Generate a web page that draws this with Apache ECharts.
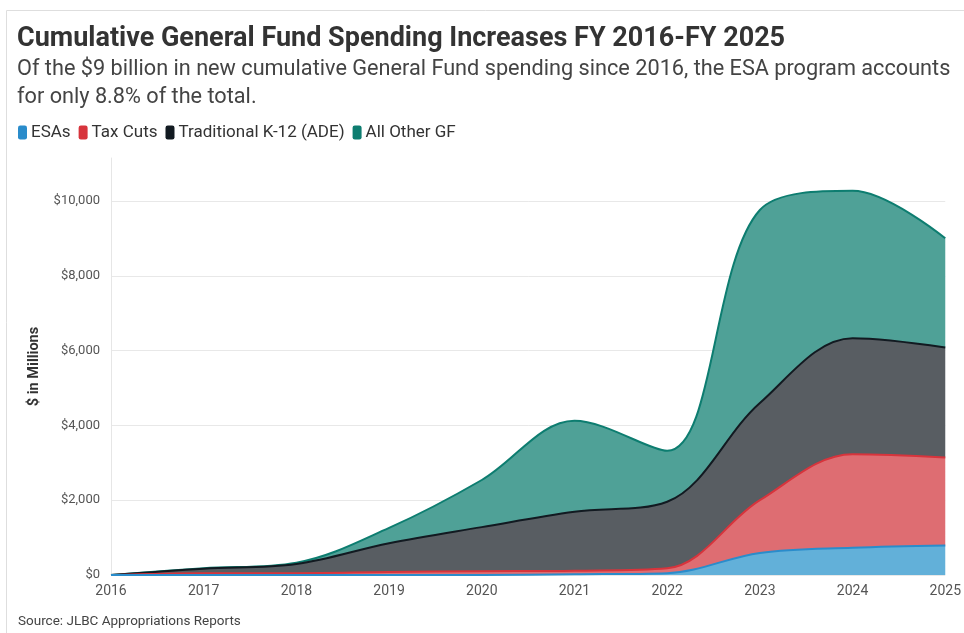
<!DOCTYPE html>
<html>
<head>
<meta charset="utf-8">
<script src="https://cdn.jsdelivr.net/npm/echarts@6/dist/echarts.min.js"></script>
<style>
  html, body { margin: 0; padding: 0; background: #fff; }
  #chart { width: 964px; height: 633px; }
</style>
</head>
<body>
<div id="chart"></div>
<script>
// fiscal years on the x axis
const years = ['2016', '2017', '2018', '2019', '2020', '2021', '2022', '2023', '2024', '2025'];

// cumulative new spending, $ in millions
const esas = [0, 0, 0, 0, 0, 20, 50, 590, 730, 792];
const taxCuts = [0, 50, 50, 80, 100, 95, 130, 1410, 2500, 2350];
const k12 = [0, 120, 245, 770, 1180, 1575, 1780, 2600, 3100, 2940];
const allOther = [0, 10, 35, 410, 1260, 2435, 1360, 5160, 3945, 2920];

const yTicks = [0, 2000, 4000, 6000, 8000, 10000];

const chart = echarts.init(document.getElementById('chart'));

// helper for one stacked area series
function areaSeries(name, data, lineColor, fillColor, z) {
  return {
    name: name,
    type: 'line',
    stack: 'total',
    data: data,
    smooth: 0.35,
    showSymbol: false,
    z: z,
    itemStyle: { color: lineColor },
    lineStyle: { color: lineColor, width: 2 },
    areaStyle: { color: fillColor, opacity: 1 },
    emphasis: { disabled: true }
  };
}

const option = {
  backgroundColor: '#fff',
  animation: false,
  textStyle: { fontFamily: 'Roboto' },
  title: {
    text: 'Cumulative General Fund Spending Increases FY 2016-FY 2025',
    subtext: 'Of the $9 billion in new cumulative General Fund spending since 2016, the ESA program accounts\nfor only 8.8% of the total.',
    left: 12,
    top: 21,
    itemGap: 3,
    textStyle: { fontFamily: 'Roboto', fontSize: 27, fontWeight: 'bold', color: '#333' },
    subtextStyle: { fontFamily: 'Roboto', fontSize: 21.7, lineHeight: 27.5, color: '#444' }
  },
  legend: {
    left: 13,
    top: 119,
    icon: 'roundRect',
    itemWidth: 9,
    itemHeight: 14,
    itemGap: 8,
    textStyle: { fontFamily: 'Roboto', fontSize: 17, color: '#333', padding: [0, 0, 0, -1] },
    data: ['ESAs', 'Tax Cuts', 'Traditional K-12 (ADE)', 'All Other GF']
  },
  grid: { left: 111, right: 14, top: 158, bottom: 58 },
  xAxis: {
    type: 'category',
    data: years,
    boundaryGap: false,
    axisLine: { show: false },
    axisTick: { show: false },
    axisLabel: { fontFamily: 'Roboto', fontSize: 14, color: '#555', margin: 9 }
  },
  yAxis: {
    type: 'value',
    min: 0,
    max: 11150,
    interval: 2000,
    name: '$ in Millions',
    nameLocation: 'middle',
    nameGap: 69,
    nameTextStyle: { fontFamily: 'Roboto', fontSize: 14.5, fontWeight: 'bold', color: '#333' },
    axisLine: { show: true, lineStyle: { color: '#e6e6e6', width: 1 } },
    axisTick: { show: false },
    splitLine: { showMaxLine: false, lineStyle: { color: '#e8e8e8', width: 1 } },
    axisLabel: {
      fontFamily: 'Roboto',
      fontSize: 13,
      color: '#555',
      margin: 11,
      showMaxLabel: false,
      formatter: function (v) {
        return yTicks.indexOf(v) >= 0 ? '$' + v.toLocaleString('en-US') : '';
      }
    }
  },
  graphic: [
    {
      type: 'rect',
      z: -1,
      shape: { x: 6.5, y: 10.5, width: 1000, height: 700 },
      style: { fill: 'none', stroke: '#dedede', lineWidth: 1 }
    },
    {
      type: 'text',
      left: 18,
      top: 615,
      style: { text: 'Source: JLBC Appropriations Reports', fill: '#444', font: '13.5px Roboto' }
    }
  ],
  series: [
    areaSeries('ESAs', esas, '#2a8ccb', '#62b0d9', 8),
    areaSeries('Tax Cuts', taxCuts, '#d7343c', '#de6d72', 7),
    areaSeries('Traditional K-12 (ADE)', k12, '#121a21', '#585d62', 6),
    areaSeries('All Other GF', allOther, '#0d7d70', '#4fa197', 5)
  ]
};

chart.setOption(option);
</script>
</body>
</html>
